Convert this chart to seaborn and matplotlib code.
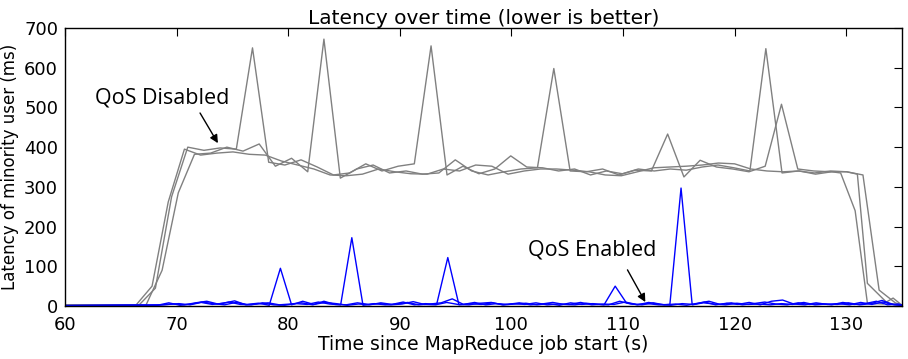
import matplotlib
matplotlib.use("Agg")
import matplotlib.pyplot as plt
import seaborn as sns
import pandas as pd

# ---------------- data ----------------
# QoS disabled (gray) series: time (s), latency (ms)
gray1_t = [60.0, 66.65, 68.1, 69.55, 71.0, 72.45, 73.9, 75.35, 76.8, 78.25, 79.7, 81.15,
           82.6, 84.05, 85.5, 86.95, 88.4, 89.85, 91.3, 92.8, 94.23, 95.66, 97.09, 98.51,
           99.94, 101.37, 102.8, 104.23, 105.66, 107.09, 108.51, 109.94, 111.37, 112.8,
           114.23, 115.66, 117.09, 118.51, 119.94, 121.37, 122.8, 124.25, 125.7, 127.15,
           128.6, 130.05, 131.5, 132.95, 134.4, 135.0]
gray1_v = [3, 3, 45, 275, 400, 392, 398, 395, 650, 362, 355, 368,
           350, 330, 335, 358, 340, 352, 358, 655, 330, 352, 333, 345,
           378, 350, 348, 340, 345, 330, 340, 333, 345, 340,
           345, 342, 350, 355, 348, 340, 648, 335, 340, 335,
           340, 338, 330, 40, 8, 2]

gray2_t = [60.0, 67.25, 68.7, 70.15, 71.6, 73.05, 74.5, 75.95, 77.4, 78.85, 80.3, 81.75,
           83.2, 84.67, 86.14, 87.61, 89.08, 90.56, 92.03, 93.5, 94.97, 96.44, 97.91,
           99.38, 100.85, 102.33, 103.8, 105.26, 106.71, 108.17, 109.63, 111.09, 112.54,
           114.0, 115.46, 116.91, 118.37, 119.83, 121.29, 122.74, 124.2, 125.66, 127.1,
           128.57, 130.03, 131.0, 131.9, 133.7, 135.0]
gray2_v = [2, 2, 90, 285, 382, 385, 400, 390, 408, 352, 372, 338,
           672, 322, 345, 355, 335, 340, 332, 335, 368, 340, 330,
           338, 345, 348, 598, 340, 338, 345, 330, 342, 340,
           433, 325, 367, 350, 345, 338, 352, 508, 345, 340,
           338, 338, 332, 57, 7, 2]

gray3_t = [60.0, 66.35, 67.8, 69.25, 70.7, 72.15, 73.6, 75.05, 76.5, 77.95, 79.4, 80.85,
           82.3, 83.75, 85.2, 86.65, 88.1, 89.55, 91.0, 92.45, 93.9, 95.35, 96.8, 98.25,
           99.7, 101.15, 102.6, 104.05, 105.5, 106.95, 108.4, 109.85, 111.3, 112.75,
           114.2, 115.65, 117.1, 118.55, 120.0, 121.45, 122.9, 124.35, 125.8, 127.25,
           128.7, 129.5, 130.8, 131.9, 133.3, 134.2, 135.0]
gray3_v = [2, 2, 50, 262, 395, 380, 385, 388, 382, 380, 365, 355,
           345, 330, 328, 332, 345, 338, 333, 332, 345, 340, 355, 352,
           332, 340, 345, 345, 342, 338, 330, 328, 338, 348,
           350, 352, 355, 360, 358, 345, 340, 338, 340, 332,
           338, 335, 240, 7, 5, 20, 2]

# QoS enabled (blue) series
blue1_t = [60.0, 68.3, 69.3, 70.3, 71.3, 72.3, 73.3, 74.3, 75.3, 76.3, 77.3, 78.3, 79.3,
           80.3, 81.3, 82.3, 83.3, 84.3, 85.3, 86.3, 87.3, 88.3, 89.3, 90.3, 91.3, 92.3,
           93.3, 94.3, 95.3, 96.3, 97.3, 98.3, 99.3, 100.3, 101.3, 102.3, 103.3, 104.3,
           105.3, 106.3, 107.3, 108.3, 109.3, 110.3, 111.3, 112.3, 113.3, 114.3, 115.3,
           116.3, 117.3, 118.3, 119.3, 120.3, 121.3, 122.3, 123.3, 124.3, 125.3, 126.3,
           127.3, 128.3, 129.3, 130.3, 131.3, 132.3, 133.3, 134.3, 135.0]
blue1_v = [1, 2, 8, 2, 5, 10, 6, 3, 9, 4, 7, 2, 95,
           3, 12, 4, 9, 6, 2, 5, 3, 8, 4, 10, 3, 6,
           4, 122, 3, 6, 4, 8, 3, 5, 7, 3, 6, 2,
           8, 4, 6, 3, 50, 8, 3, 9, 4, 2, 6,
           4, 10, 3, 7, 4, 9, 3, 12, 15, 5, 3,
           8, 4, 6, 3, 9, 4, 10, 3, 2]

blue2_t = [60.0, 68.7, 69.7, 70.7, 71.7, 72.7, 73.7, 74.7, 75.7, 76.7, 77.7, 78.7, 79.7,
           80.7, 81.7, 82.7, 83.7, 84.7, 85.7, 86.7, 87.7, 88.7, 89.7, 90.7, 91.7, 92.7,
           93.7, 94.7, 95.7, 96.7, 97.7, 98.7, 99.7, 100.7, 101.7, 102.7, 103.7, 104.7,
           105.7, 106.7, 107.7, 108.7, 109.7, 110.7, 111.7, 112.7, 113.7, 114.7, 115.7,
           116.7, 117.7, 118.7, 119.7, 120.7, 121.7, 122.7, 123.7, 124.7, 125.7, 126.7,
           127.7, 128.7, 129.7, 130.7, 131.7, 132.7, 133.7, 134.7, 135.0]
blue2_v = [1, 3, 5, 3, 8, 12, 5, 10, 4, 3, 8, 3, 2,
           6, 4, 10, 5, 3, 172, 2, 6, 3, 5, 9, 3, 5,
           8, 18, 4, 9, 3, 6, 4, 8, 3, 5, 9, 4,
           3, 7, 4, 3, 12, 5, 3, 8, 3, 5, 2,
           7, 12, 4, 8, 3, 6, 10, 5, 3, 8, 4,
           6, 3, 9, 4, 6, 12, 3, 5, 2]

blue3_t = [60.0, 68.2, 69.2, 70.2, 71.2, 72.2, 73.2, 74.2, 75.2, 76.2, 77.2, 78.2, 79.2,
           80.2, 81.2, 82.2, 83.2, 84.2, 85.2, 86.2, 87.2, 88.2, 89.2, 90.2, 91.2, 92.2,
           93.2, 94.2, 95.2, 96.2, 97.2, 98.2, 99.2, 100.2, 101.2, 102.2, 103.2, 104.2,
           105.2, 106.2, 107.2, 108.2, 109.2, 110.2, 111.2, 112.2, 113.2, 114.2, 115.2,
           116.2, 117.2, 118.2, 119.2, 120.2, 121.2, 122.2, 123.2, 124.2, 125.2, 126.2,
           127.2, 128.2, 129.2, 130.2, 131.2, 132.2, 133.2, 134.2, 135.0]
blue3_v = [1, 2, 4, 6, 3, 9, 4, 7, 13, 3, 5, 8, 3,
           5, 8, 3, 12, 4, 3, 8, 4, 6, 3, 5, 11, 4,
           3, 9, 4, 3, 7, 9, 3, 6, 4, 8, 3, 5,
           4, 9, 3, 5, 4, 10, 4, 6, 3, 4, 297,
           3, 8, 5, 3, 7, 4, 5, 3, 6, 4, 9,
           3, 5, 4, 8, 3, 6, 14, 4, 2]

title = "Latency over time (lower is better)"
xlabel = "Time since MapReduce job start (s)"
ylabel = "Latency of minority user (ms)"
xticks = [60, 70, 80, 90, 100, 110, 120, 130]
yticks = [0, 100, 200, 300, 400, 500, 600, 700]

# ---------------- build table ----------------
frames = []
for name, grp, t, v in [("g1", "disabled", gray1_t, gray1_v),
                        ("g2", "disabled", gray2_t, gray2_v),
                        ("g3", "disabled", gray3_t, gray3_v),
                        ("b1", "enabled", blue1_t, blue1_v),
                        ("b2", "enabled", blue2_t, blue2_v),
                        ("b3", "enabled", blue3_t, blue3_v)]:
    frames.append(pd.DataFrame({"time": t, "latency": v, "series": name, "qos": grp}))
df = pd.concat(frames, ignore_index=True)

# ---------------- style ----------------
sns.set_style("white")
plt.rcParams.update({
    "font.family": ["DejaVu Sans"],
    "text.color": "black", "axes.labelcolor": "black",
    "xtick.color": "black", "ytick.color": "black",
    "xtick.direction": "in", "ytick.direction": "in",
    "xtick.top": True, "ytick.right": True,
    "xtick.major.size": 6, "ytick.major.size": 6,
    "xtick.major.width": 0.8, "ytick.major.width": 0.8,
    "axes.edgecolor": "black", "axes.linewidth": 1.0,
})

fig = plt.figure(figsize=(9.08, 3.59), dpi=100)
ax = fig.add_axes([0.0716, 0.1476, 0.9218, 0.7744])

sns.lineplot(data=df[df.qos == "disabled"], x="time", y="latency", units="series",
             estimator=None, color="#808080", linewidth=1.0, ax=ax, legend=False)
sns.lineplot(data=df[df.qos == "enabled"], x="time", y="latency", units="series",
             estimator=None, color="#0000ff", linewidth=1.0, ax=ax, legend=False)

ax.set_xlim(60, 135)
ax.set_ylim(0, 700)
ax.set_xticks(xticks)
ax.set_yticks(yticks)
ax.tick_params(labelsize=13, colors="black")
ax.tick_params(axis="x", pad=7)
ax.tick_params(axis="y", pad=5)
ax.set_title(title, fontsize=14.5, color="black", pad=3)
ax.set_xlabel(xlabel, fontsize=13.5, color="black", labelpad=1)
ax.set_ylabel(ylabel, fontsize=12, color="black")
for s in ax.spines.values():
    s.set_visible(True)
    s.set_color("black")

ann_font = ["Open Sans", "DejaVu Sans"]
ax.text(68.7, 525, "QoS Disabled", ha="center", va="center", fontsize=15.5,
        family=ann_font, color="black")
ax.annotate("", xy=(73.7, 410), xytext=(72.1, 486),
            arrowprops=dict(arrowstyle="-|>", color="black", lw=1.0,
                            shrinkA=0, shrinkB=0, mutation_scale=12))
ax.text(107.2, 141, "QoS Enabled", ha="center", va="center", fontsize=15.5,
        family=ann_font, color="black")
ax.annotate("", xy=(112.0, 10), xytext=(110.4, 91),
            arrowprops=dict(arrowstyle="-|>", color="black", lw=1.0,
                            shrinkA=0, shrinkB=0, mutation_scale=12))

fig.savefig("out.png", dpi=100)
